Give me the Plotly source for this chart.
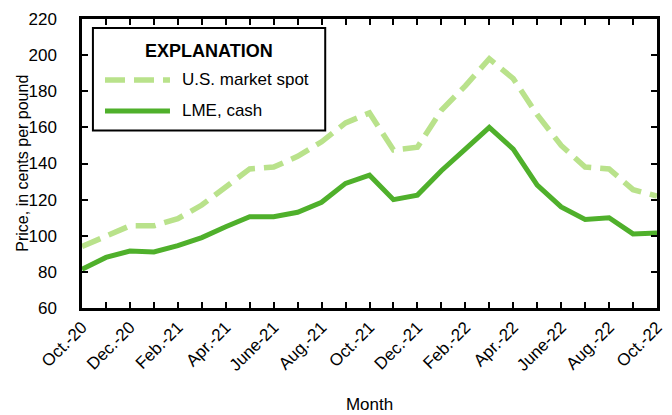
import plotly.graph_objects as go

months = ["Oct.-20", "Nov.-20", "Dec.-20", "Jan.-21", "Feb.-21", "Mar.-21", "Apr.-21",
          "May-21", "June-21", "July-21", "Aug.-21", "Sep.-21", "Oct.-21", "Nov.-21",
          "Dec.-21", "Jan.-22", "Feb.-22", "Mar.-22", "Apr.-22", "May-22", "June-22",
          "July-22", "Aug.-22", "Sep.-22", "Oct.-22"]
us_spot = [94, 100, 105.5, 105.5, 109.5, 117, 127, 137, 138, 144, 152, 162.5, 168,
           147.5, 149, 169.5, 183, 198, 187, 167, 150, 138, 137, 125.5, 122]
lme_cash = [81.5, 88, 91.5, 91, 94.5, 99, 105, 110.5, 110.5, 113, 118.5, 129, 133.5,
            120, 122.5, 136, 148, 160, 148, 128, 116, 109, 110, 101, 101.5]
y_ticks = [60, 80, 100, 120, 140, 160, 180, 200, 220]

FONT = "Liberation Sans, Arial, sans-serif"
LIGHT = "#b9e28b"
DARK = "#4fb02b"

x = list(range(len(months)))
ticktext = [m if i % 2 == 0 else "" for i, m in enumerate(months)]

fig = go.Figure()
fig.add_trace(go.Scatter(x=x, y=us_spot, mode="lines", name="U.S. market spot",
                         line=dict(color=LIGHT, width=5.5, dash="20px,9px")))
fig.add_trace(go.Scatter(x=x, y=lme_cash, mode="lines", name="LME, cash",
                         line=dict(color=DARK, width=5)))

# Legend box (EXPLANATION) drawn manually
fig.add_shape(type="rect", xref="paper", yref="paper", x0=0.019, x1=0.423, y0=0.614, y1=0.969,
              line=dict(color="black", width=2), fillcolor="white", layer="above")
fig.add_annotation(xref="paper", yref="paper", x=0.221, y=0.889, text="<b>EXPLANATION</b>",
                   xanchor="center", yanchor="middle", showarrow=False,
                   font=dict(family=FONT, size=18, color="black"))
fig.add_shape(type="line", xref="paper", yref="paper", x0=0.040, x1=0.153, y0=0.789, y1=0.789,
              line=dict(color=LIGHT, width=5.5, dash="20px,9px"), layer="above")
fig.add_annotation(xref="paper", yref="paper", x=0.170, y=0.789, text="U.S. market spot",
                   xanchor="left", yanchor="middle", showarrow=False,
                   font=dict(family=FONT, size=17, color="black"))
fig.add_shape(type="line", xref="paper", yref="paper", x0=0.040, x1=0.153, y0=0.682, y1=0.682,
              line=dict(color=DARK, width=5), layer="above")
fig.add_annotation(xref="paper", yref="paper", x=0.170, y=0.682, text="LME, cash",
                   xanchor="left", yanchor="middle", showarrow=False,
                   font=dict(family=FONT, size=17, color="black"))

# y-axis title placed as a rotated annotation
fig.add_annotation(xref="paper", yref="paper", x=-0.104, y=0.5, text="Price, in cents per pound",
                   textangle=-90, xanchor="center", yanchor="middle", showarrow=False,
                   font=dict(family=FONT, size=16, color="black"))

# page body has an 8px default margin, so the figure is shrunk by 8px to fit the window
fig.update_layout(
    width=664, height=407,
    margin=dict(l=74, r=15, t=11, b=107),
    plot_bgcolor="white", paper_bgcolor="white",
    showlegend=False,
    font=dict(family=FONT, size=17, color="black"),
    xaxis=dict(
        range=[0, 24], tickmode="array", tickvals=x, ticktext=ticktext,
        tickangle=-45, ticks="inside", ticklen=6, tickwidth=1.5, tickcolor="black",
        showline=True, linecolor="black", linewidth=2.5, mirror="ticks",
        showgrid=False, zeroline=False, tickfont=dict(size=17), automargin=False,
        title=dict(text="Month", font=dict(family=FONT, size=17), standoff=25),
    ),
    yaxis=dict(
        range=[60, 220], tickmode="array", tickvals=y_ticks,
        ticks="inside", ticklen=6, tickwidth=1.5, tickcolor="black",
        showline=True, linecolor="black", linewidth=2.5, mirror="ticks",
        showgrid=False, zeroline=False, tickfont=dict(size=17), ticklabelstandoff=19,
        automargin=False,
    ),
)

fig.write_html("out.html")
